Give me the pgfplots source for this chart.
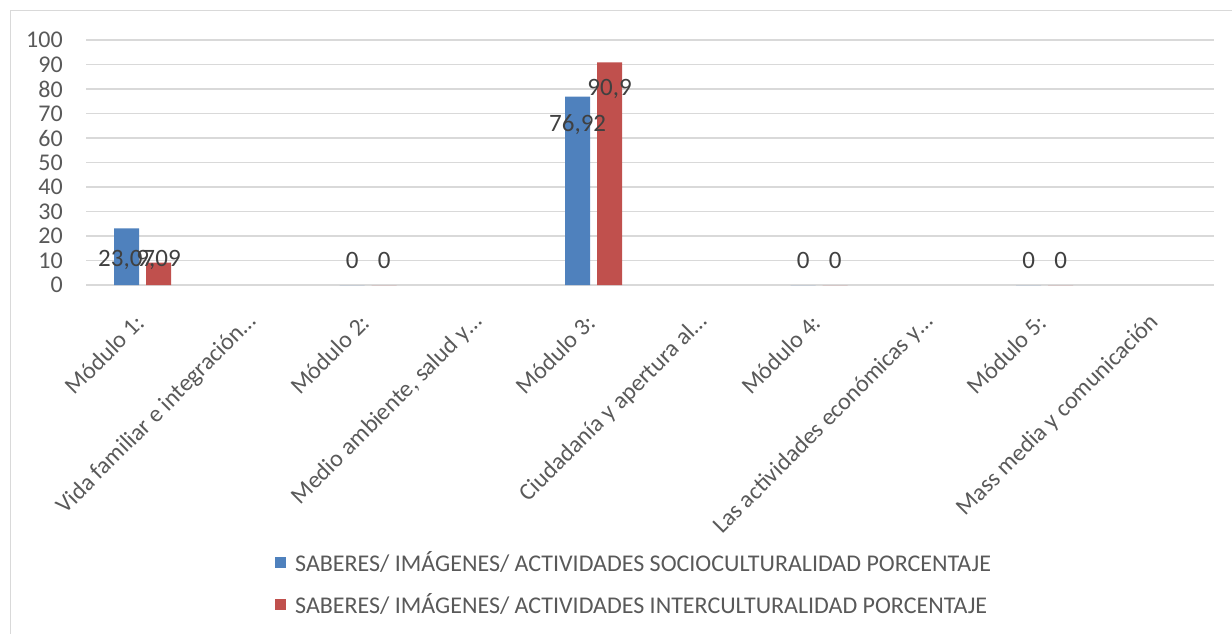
\documentclass[border=0pt]{standalone}
\usepackage{fontspec}
\setmainfont{Carlito}
\usepackage{pgfplots}
\pgfplotsset{compat=1.18}
\definecolor{serA}{HTML}{4F81BD}
\definecolor{serB}{HTML}{C0504D}
\definecolor{gridc}{HTML}{D9D9D9}
\definecolor{txt}{HTML}{595959}
\definecolor{lbl}{HTML}{404040}
\begin{document}
\begin{tikzpicture}
\useasboundingbox (0pt,0pt) rectangle (1232pt,-634pt);
\draw[gridc, line width=1pt] (10pt,-640pt) -- (10pt,-11pt) -- (1240pt,-11pt);
\begin{axis}[
  at={(86.25pt,-285pt)}, anchor=south west,
  scale only axis, width=1127.5pt, height=245pt,
  xmin=-0.5, xmax=9.5, ymin=0, ymax=100,
  ytick={0,10,...,100},
  xtick={0,...,9},
  xticklabels={M\'odulo 1:, Vida familiar e integraci\'on\dots, M\'odulo 2:, {Medio ambiente, salud y\dots}, M\'odulo 3:, Ciudadan\'ia y apertura al\dots, M\'odulo 4:, Las actividades econ\'omicas y\dots, M\'odulo 5:, Mass media y comunicaci\'on},
  ymajorgrids, grid style={gridc, line width=1.4pt},
  axis line style={draw=none},
  major tick length=0pt,
  /pgf/number format/assume math mode=true,
  tick label style={font=\fontsize{24}{26}\selectfont, text=txt},
  yticklabel style={anchor=east, xshift=-20pt},
  xticklabel style={rotate=45, anchor=east, yshift=-22pt, xshift=-22pt},
  clip=false,
  legend style={at={(rel axis cs:0.1674,-1.08)}, anchor=north west, draw=none, fill=none,
    font=\fontsize{24}{26}\selectfont, text=txt, inner sep=0pt, row sep=16pt,
    /tikz/every odd column/.append style={column sep=7pt}},
  legend cell align=left,
  legend image code/.code={\fill[#1] (0pt,-5.5pt) rectangle (11pt,5.5pt);},
]
\addplot[ybar, bar width=25pt, bar shift=-16pt, fill=serA, draw=none] coordinates {(0,23.07) (2,0) (4,76.92) (6,0) (8,0)};
\addlegendentry{SABERES/ IM\'AGENES/ ACTIVIDADES SOCIOCULTURALIDAD PORCENTAJE}
\addplot[ybar, bar width=25pt, bar shift=16pt, fill=serB, draw=none] coordinates {(0,9.09) (2,0) (4,90.9) (6,0) (8,0)};
\addlegendentry{SABERES/ IM\'AGENES/ ACTIVIDADES INTERCULTURALIDAD PORCENTAJE}
% data labels
\addplot[draw=none, mark=none, forget plot, nodes near coords, point meta=explicit symbolic,
  nodes near coords style={anchor=center, xshift=-16pt, font=\fontsize{25}{26}\selectfont, text=lbl}]
  table[meta=label] {
x y label
0 10.2 23,07
2 10.2 0
4 65.3 76,92
6 10.2 0
8 10.2 0
};
\addplot[draw=none, mark=none, forget plot, nodes near coords, point meta=explicit symbolic,
  nodes near coords style={anchor=center, xshift=16pt, font=\fontsize{25}{26}\selectfont, text=lbl}]
  table[meta=label] {
x y label
0 10.2 9,09
2 10.2 0
4 80 90,9
6 10.2 0
8 10.2 0
};
\end{axis}
\end{tikzpicture}
\end{document}
